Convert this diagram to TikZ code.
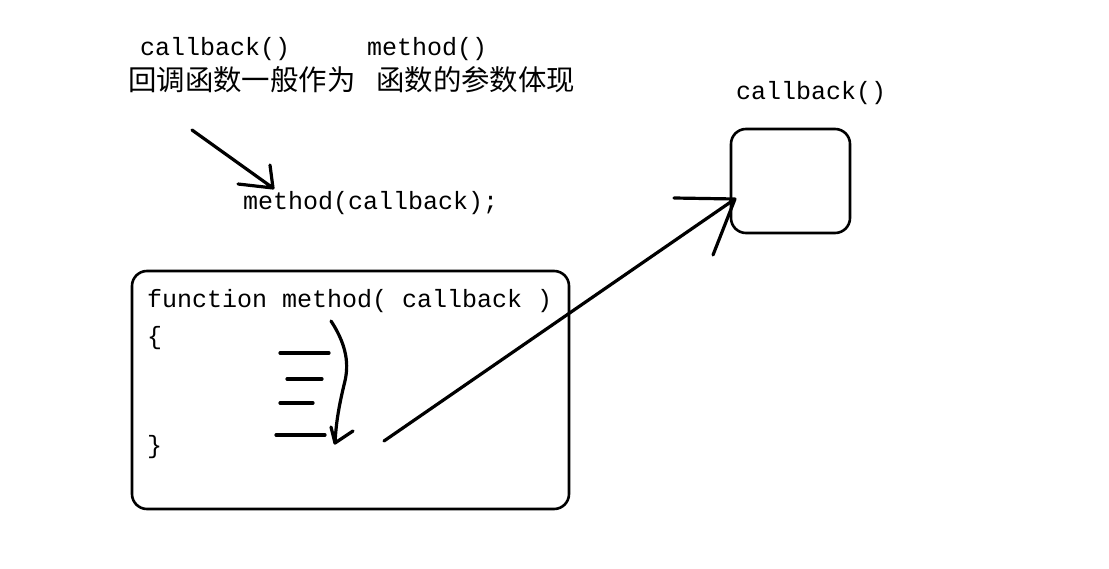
\documentclass[tikz,border=0pt]{standalone}
\usepackage{fontspec}
\newfontfamily\codefont{Liberation Mono}
\newfontfamily\cjk{Noto Sans CJK SC}
\usetikzlibrary{positioning}

\tikzset{
	pen/.style={line width=3.2pt, line cap=round, line join=round},
	frame/.style={draw, line width=2.6pt, rounded corners=15pt, inner sep=0pt},
	code/.style={font=\codefont\fontsize{25}{25}\selectfont, inner sep=0pt, anchor=west},
	zh/.style={font=\cjk\fontsize{28.4}{28.4}\selectfont, inner sep=0pt, anchor=west}
}

\begin{document}
\begin{tikzpicture}[x=1pt,y=-1pt]
	\useasboundingbox (0,0) rectangle (1109,569);
	% labels on top
	\node[code] (cbname) at (140,49) {callback()};
	\node[code] (mname) at (367,49) {method()};
	\node[zh] (note) at (128,80) {回调函数一般作为\hspace{21pt}函数的参数体现};
	\node[code] (call) at (243,203) {method(callback);};
	% the two boxes
	\node[frame, minimum width=437pt, minimum height=238pt] (fnbox) at (350.5,390) {};
	\node[frame, minimum width=119pt, minimum height=104pt] (cbbox) at (790.5,181) {};
	\node[code] (cblabel) at (736,93) {callback()};
	% inside the function box
	\node[code] (head) at (147,301) {function method( callback\hspace{15pt})};
	\node[code] (open) at (147,338) {\{};
	\node[code] (close) at (147,447) {\}};
	\draw[pen] (280,353) -- (329,353);
	\draw[pen] (287,379) -- (322,379);
	\draw[pen] (280,403) -- (313,403);
	\draw[pen] (276,435) -- (325,435);
	% hand drawn arrows
	\coordinate (a0) at (192,130);
	\coordinate (a1) at (273,188);
	\draw[pen] (a0) -- (a1) (270,165) -- (a1) -- (238,184);
	\coordinate (b0) at (331,321);
	\coordinate (b1) at (335,443);
	\draw[pen] (b0) .. controls (350,350) and (348,370) .. (344,385)
		.. controls (338,410) and (336,425) .. (b1);
	\draw[pen] (331,427) -- (b1) -- (353,431);
	\coordinate (c0) at (384,441);
	\coordinate (c1) at (735,199);
	\draw[pen] (c0) -- (c1) (674,198) -- (c1) -- (713,255);
\end{tikzpicture}
\end{document}
